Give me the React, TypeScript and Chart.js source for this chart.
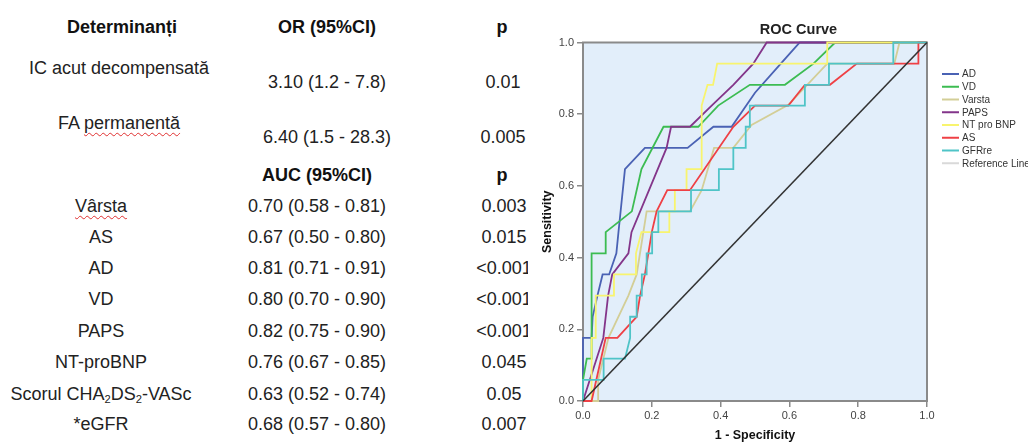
import React, { useEffect, useRef } from "react";
import { Chart, registerables } from "chart.js";

Chart.register(...registerables);

// ---------- table data ----------
const OR_FACTORS = ["IC acut decompensată", "FA permanentă"];
const OR_VALUES = ["3.10 (1.2 - 7.8)", "6.40 (1.5 - 28.3)"];
const OR_P = ["0.01", "0.005"];

const AUC_FACTORS = ["Vârsta", "AS", "AD", "VD", "PAPS", "NT-proBNP", "Scorul CHA{2}DS{2}-VASc", "*eGFR"];
const AUC_VALUES = [
  "0.70 (0.58 - 0.81)",
  "0.67 (0.50 - 0.80)",
  "0.81 (0.71 - 0.91)",
  "0.80 (0.70 - 0.90)",
  "0.82 (0.75 - 0.90)",
  "0.76 (0.67 - 0.85)",
  "0.63 (0.52 - 0.74)",
  "0.68 (0.57 - 0.80)",
];
const AUC_P = ["0.003", "0.015", "<0.001", "<0.001", "<0.001", "0.045", "0.05", "0.007"];
const SPELL_FLAGGED = ["permanentă", "Vârsta"];

// ---------- ROC data ----------
const CHART_TITLE = "ROC Curve";
const X_TITLE = "1 - Specificity";
const Y_TITLE = "Sensitivity";
const TICKS = [0, 0.2, 0.4, 0.6, 0.8, 1.0];

const AD_FPR = [0, 0, 0.025, 0.028, 0.042, 0.057, 0.076, 0.097, 0.103, 0.122, 0.18, 0.304, 0.379, 0.432, 0.5, 0.575, 0.63, 1];
const AD_TPR = [0, 0.176, 0.176, 0.235, 0.294, 0.353, 0.353, 0.412, 0.47, 0.647, 0.706, 0.706, 0.765, 0.765, 0.86, 0.941, 1, 1];

const VD_FPR = [0, 0, 0.011, 0.025, 0.025, 0.064, 0.066, 0.142, 0.17, 0.234, 0.335, 0.393, 0.485, 0.587, 0.67, 0.733, 1];
const VD_TPR = [0, 0.059, 0.118, 0.118, 0.412, 0.412, 0.471, 0.529, 0.647, 0.765, 0.765, 0.824, 0.882, 0.882, 0.941, 1, 1];

const VARSTA_FPR = [0, 0.044, 0.044, 0.074, 0.132, 0.156, 0.185, 0.311, 0.345, 0.381, 0.437, 0.49, 0.597, 0.71, 0.905, 0.92, 1];
const VARSTA_TPR = [0, 0, 0.059, 0.176, 0.294, 0.353, 0.529, 0.529, 0.588, 0.706, 0.706, 0.77, 0.826, 0.941, 0.941, 1, 1];

const PAPS_FPR = [0, 0.059, 0.073, 0.085, 0.132, 0.141, 0.243, 0.256, 0.311, 0.374, 0.437, 0.495, 0.534, 1];
const PAPS_TPR = [0, 0.176, 0.294, 0.353, 0.412, 0.471, 0.706, 0.765, 0.765, 0.824, 0.882, 0.941, 1, 1];

const NTPROBNP_FPR = [0, 0.025, 0.025, 0.037, 0.037, 0.09, 0.09, 0.154, 0.154, 0.17, 0.251, 0.251, 0.267, 0.267, 0.301, 0.301, 0.345, 0.345, 0.362, 0.378, 0.39, 0.71, 0.71, 1];
const NTPROBNP_TPR = [0, 0, 0.176, 0.176, 0.294, 0.294, 0.353, 0.353, 0.412, 0.471, 0.471, 0.529, 0.529, 0.588, 0.588, 0.647, 0.647, 0.824, 0.882, 0.882, 0.941, 0.941, 1, 1];

const AS_FPR = [0, 0.025, 0.066, 0.1, 0.137, 0.156, 0.166, 0.18, 0.19, 0.2, 0.214, 0.245, 0.311, 0.437, 0.5, 0.597, 0.645, 0.718, 0.796, 0.975, 0.975, 1];
const AS_TPR = [0, 0, 0.176, 0.176, 0.215, 0.235, 0.294, 0.353, 0.412, 0.471, 0.529, 0.588, 0.588, 0.765, 0.824, 0.824, 0.882, 0.882, 0.941, 0.941, 1, 1];

const GFR_FPR = [0, 0, 0.06, 0.06, 0.122, 0.137, 0.137, 0.156, 0.156, 0.171, 0.171, 0.185, 0.185, 0.201, 0.201, 0.219, 0.219, 0.314, 0.314, 0.395, 0.395, 0.437, 0.437, 0.473, 0.473, 0.485, 0.485, 0.645, 0.645, 0.715, 0.715, 0.902, 0.902, 1];
const GFR_TPR = [0, 0.059, 0.059, 0.118, 0.118, 0.176, 0.235, 0.235, 0.294, 0.294, 0.353, 0.353, 0.412, 0.412, 0.471, 0.471, 0.529, 0.529, 0.588, 0.588, 0.647, 0.647, 0.706, 0.706, 0.765, 0.765, 0.824, 0.824, 0.882, 0.882, 0.941, 0.941, 1, 1];

const REF_FPR = [0, 1];
const REF_TPR = [0, 1];

const SERIES_LABELS = ["AD", "VD", "Varsta", "PAPS", "NT pro BNP", "AS", "GFRre", "Reference Line"];
const SERIES_FPR = [AD_FPR, VD_FPR, VARSTA_FPR, PAPS_FPR, NTPROBNP_FPR, AS_FPR, GFR_FPR, REF_FPR];
const SERIES_TPR = [AD_TPR, VD_TPR, VARSTA_TPR, PAPS_TPR, NTPROBNP_TPR, AS_TPR, GFR_TPR, REF_TPR];

// ---------- styles ----------
const SERIES_COLORS = ["#4A62B4", "#3CBC52", "#D3CE97", "#83358A", "#F8F46E", "#EF4045", "#4FC4C7", "#333333"];
const LEGEND_COLORS = ["#4A62B4", "#3CBC52", "#D3CE97", "#83358A", "#F8F46E", "#EF4045", "#4FC4C7", "#D9D9D9"];
const FONT = 'Arial, "Liberation Sans", sans-serif';
const PLOT_BG = "rgb(226,238,250)";
const FRAME = "#8a8a8a";

const decor = {
  id: "rocDecor",
  beforeDraw(chart: any) {
    const { ctx, chartArea: a } = chart;
    ctx.save();
    ctx.fillStyle = PLOT_BG;
    ctx.fillRect(a.left, a.top, a.right - a.left, a.bottom - a.top);
    ctx.restore();
  },
  beforeDatasetsDraw(chart: any) {
    const { ctx, chartArea: a } = chart;
    ctx.save();
    ctx.strokeStyle = FRAME;
    ctx.lineWidth = 2;
    ctx.strokeRect(a.left, a.top, a.right - a.left, a.bottom - a.top);
    ctx.restore();
  },
  afterDraw(chart: any) {
    const { ctx, chartArea: a } = chart;
    ctx.save();
    ctx.fillStyle = "#222";
    ctx.font = `bold 14.5px ${FONT}`;
    ctx.textAlign = "center";
    ctx.textBaseline = "middle";
    ctx.fillText(CHART_TITLE, 268.5, 30);
    // legend
    const lx = a.right + 15;
    chart.data.datasets.forEach((ds: any, i: number) => {
      const y = 74 + i * 12.75;
      ctx.strokeStyle = ds.legendColor;
      ctx.lineWidth = 2;
      ctx.beginPath();
      ctx.moveTo(lx, y);
      ctx.lineTo(lx + 17, y);
      ctx.stroke();
      ctx.fillStyle = "#333";
      ctx.font = `10px ${FONT}`;
      ctx.textAlign = "left";
      ctx.textBaseline = "middle";
      ctx.fillText(ds.label, lx + 20, y + 0.5);
    });
    ctx.restore();
  },
};

function renderLabel(text: string) {
  const parts = text.split(/(\{\d\})/);
  const out: any[] = [];
  parts.forEach((p, i) => {
    const m = p.match(/^\{(\d)\}$/);
    if (m) {
      out.push(
        <span key={i} style={{ fontSize: "0.62em", verticalAlign: "-0.3em", lineHeight: 0 }}>
          {m[1]}
        </span>
      );
    } else {
      const words = p.split(/( )/);
      words.forEach((w, j) => {
        if (SPELL_FLAGGED.includes(w)) {
          out.push(
            <span
              key={i + "-" + j}
              style={{
                textDecorationLine: "underline",
                textDecorationStyle: "wavy",
                textDecorationColor: "#e03030",
                textDecorationThickness: "1px",
                textUnderlineOffset: "3px",
                textDecorationSkipInk: "none",
              } as any}
            >
              {w}
            </span>
          );
        } else out.push(<React.Fragment key={i + "-" + j}>{w}</React.Fragment>);
      });
    }
  });
  return out;
}

function Cell({ cx, cy, bold, size, children }: any) {
  return (
    <div
      style={{
        position: "absolute",
        left: cx - 150,
        top: cy - 10,
        width: 300,
        textAlign: "center",
        fontSize: size,
        lineHeight: "20px",
        fontWeight: bold ? 700 : 400,
        whiteSpace: "nowrap",
        color: bold ? "#111" : "#222",
      }}
    >
      {children}
    </div>
  );
}

const HEADER_Y = 27;
const OR_LABEL_Y = [68, 123];
const OR_VALUE_Y = [82, 137];
const AUC_HEADER_Y = 175;
const AUC_ROW_Y = [206, 237, 268, 299, 331, 362, 394, 424];

export default function App() {
  const canvasRef = useRef<HTMLCanvasElement>(null);

  useEffect(() => {
    const datasets = SERIES_LABELS.map((label, i) => ({
      label,
      data: SERIES_FPR[i].map((x, k) => ({ x, y: SERIES_TPR[i][k] })),
      borderColor: SERIES_COLORS[i],
      legendColor: LEGEND_COLORS[i],
      backgroundColor: SERIES_COLORS[i],
      borderWidth: i === 7 ? 1.6 : 1.8,
      pointRadius: 0,
      tension: 0,
      fill: false,
      clip: false as any,
      order: i === 7 ? -20 : -i,
    }));

    const chart = new Chart(canvasRef.current as HTMLCanvasElement, {
      type: "line",
      data: { datasets } as any,
      plugins: [decor],
      options: {
        animation: false,
        responsive: false,
        devicePixelRatio: 1,
        layout: { padding: { left: 0, right: 101, top: 42.5, bottom: 0 } },
        plugins: { legend: { display: false }, title: { display: false }, tooltip: { enabled: false } },
        scales: {
          x: {
            type: "linear",
            min: 0,
            max: 1,
            afterFit: (s: any) => {
              s.height = 41;
            },
            afterBuildTicks: (s: any) => {
              s.ticks = TICKS.map((v) => ({ value: v }));
            },
            ticks: {
              callback: (v: any) => Number(v).toFixed(1),
              color: "#444",
              font: { size: 11, family: FONT },
              padding: 2,
              maxRotation: 0,
            },
            grid: { drawOnChartArea: false, drawTicks: true, tickLength: 6, color: FRAME, lineWidth: 1.5 },
            border: { display: true, color: FRAME, width: 2 },
            title: {
              display: true,
              text: X_TITLE,
              color: "#111",
              font: { size: 12.5, weight: "bold", family: FONT, lineHeight: 1 },
              padding: { top: 0, bottom: 0 },
            },
          },
          y: {
            type: "linear",
            min: 0,
            max: 1,
            afterFit: (s: any) => {
              s.width = 53;
            },
            afterBuildTicks: (s: any) => {
              s.ticks = TICKS.map((v) => ({ value: v }));
            },
            ticks: {
              callback: (v: any) => Number(v).toFixed(1),
              color: "#444",
              font: { size: 11, family: FONT },
              padding: 3,
            },
            grid: { drawOnChartArea: false, drawTicks: true, tickLength: 6, color: FRAME, lineWidth: 1.5 },
            border: { display: true, color: FRAME, width: 2 },
            title: {
              display: true,
              text: Y_TITLE,
              color: "#111",
              font: { size: 12.5, weight: "bold", family: FONT, lineHeight: 1.2 },
              padding: { top: 10, bottom: 0 },
            },
          },
        },
      } as any,
    });
    return () => chart.destroy();
  }, []);

  return (
    <div
      style={{
        position: "absolute",
        left: 0,
        top: 0,
        width: 1028,
        height: 442,
        overflow: "hidden",
        background: "#fff",
        fontFamily: FONT,
      }}
    >
      <div style={{ position: "absolute", left: 0, top: 0, width: 528, height: 442, overflow: "hidden" }}>
        <Cell cx={122} cy={HEADER_Y} bold size={18}>Determinanți</Cell>
        <Cell cx={327} cy={HEADER_Y} bold size={18}>OR (95%CI)</Cell>
        <Cell cx={502} cy={HEADER_Y} bold size={18}>p</Cell>
        {OR_FACTORS.map((f, i) => (
          <React.Fragment key={"or" + i}>
            <Cell cx={119} cy={OR_LABEL_Y[i]} size={18}>{renderLabel(f)}</Cell>
            <Cell cx={327} cy={OR_VALUE_Y[i]} size={18}>{OR_VALUES[i]}</Cell>
            <Cell cx={503} cy={OR_VALUE_Y[i]} size={18}>{OR_P[i]}</Cell>
          </React.Fragment>
        ))}
        <Cell cx={317} cy={AUC_HEADER_Y} bold size={18}>AUC (95%CI)</Cell>
        <Cell cx={502} cy={AUC_HEADER_Y} bold size={18}>p</Cell>
        {AUC_FACTORS.map((f, i) => (
          <React.Fragment key={"auc" + i}>
            <Cell cx={101} cy={AUC_ROW_Y[i]} size={18}>{renderLabel(f)}</Cell>
            <Cell cx={317} cy={AUC_ROW_Y[i]} size={18}>{AUC_VALUES[i]}</Cell>
            <Cell cx={504} cy={AUC_ROW_Y[i]} size={18}>{AUC_P[i]}</Cell>
          </React.Fragment>
        ))}
      </div>
      <canvas
        ref={canvasRef}
        width={498}
        height={442}
        style={{ position: "absolute", left: 530, top: 0, width: 498, height: 442 }}
      />
    </div>
  );
}
